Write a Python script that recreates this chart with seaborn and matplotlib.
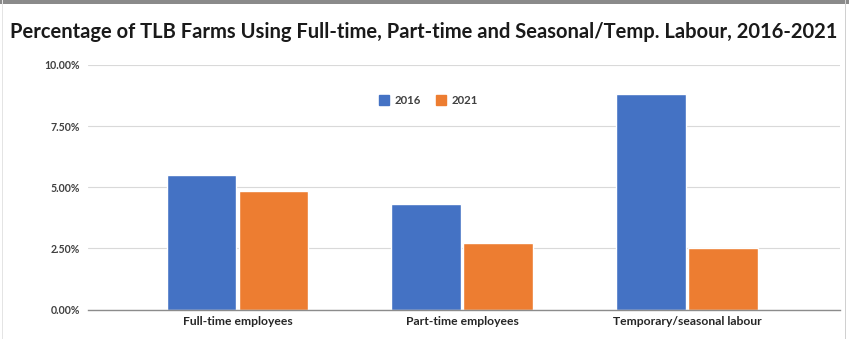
import matplotlib
matplotlib.use("Agg")
import matplotlib.pyplot as plt
from matplotlib.patches import Rectangle
from matplotlib.lines import Line2D
from matplotlib.ticker import FuncFormatter
import seaborn as sns
import pandas as pd

categories = ["Full-time employees", "Part-time employees", "Temporary/seasonal labour"]
years = ["2016", "2021"]
pct_2016 = [5.50, 4.31, 8.81]
pct_2021 = [4.85, 2.71, 2.50]
y_ticks = [0.0, 2.5, 5.0, 7.5, 10.0]
title = "Percentage of TLB Farms Using Full-time, Part-time and Seasonal/Temp. Labour, 2016-2021"

colors = {"2016": "#4472C4", "2021": "#ED7D31"}

df = pd.DataFrame({
    "category": categories * 2,
    "year": [years[0]] * 3 + [years[1]] * 3,
    "value": pct_2016 + pct_2021,
})

sns.set_theme(style="white")
plt.rcParams["font.family"] = ["Lato", "DejaVu Sans"]

W, H = 849, 339
fig = plt.figure(figsize=(W / 100, H / 100), dpi=100)
fig.patch.set_facecolor("white")

ax = fig.add_axes([88 / W, 29.5 / H, (840 - 88) / W, (309.5 - 65) / H])
sns.barplot(data=df, x="category", y="value", hue="year", order=categories,
            hue_order=years, palette=colors, width=0.64, gap=0.03,
            saturation=1, ax=ax, legend=False)

ax.set_xlim(-0.665, 2.68)
ax.set_ylim(0, 10)
ax.set_yticks(y_ticks)
ax.yaxis.set_major_formatter(FuncFormatter(lambda v, _: f"{v:.2f}%"))
ax.grid(axis="y", color="#d9d9d9", linewidth=0.8)
ax.set_axisbelow(True)
for s in ["top", "right", "left"]:
    ax.spines[s].set_visible(False)
ax.spines["bottom"].set_color("#8c8c8c")
ax.spines["bottom"].set_linewidth(1.0)
ax.set_xlabel("")
ax.set_ylabel("")
ax.tick_params(axis="y", length=0, pad=6, labelsize=7.6, labelcolor="#404040")
ax.tick_params(axis="x", length=0, pad=5, labelsize=8.7, labelcolor="#262626")
for lbl in ax.get_yticklabels() + ax.get_xticklabels():
    lbl.set_fontweight("bold")

handles = [Line2D([], [], marker="s", linestyle="none", markersize=7,
                  markerfacecolor=colors[y], markeredgecolor=colors[y]) for y in years]
leg = ax.legend(handles, years, loc="center", bbox_to_anchor=(0.452, 0.855),
                ncol=2, frameon=False, handletextpad=0.4, columnspacing=1.3,
                handlelength=1.0, prop={"weight": "bold", "size": 8.2})
for t in leg.get_texts():
    t.set_color("#404040")

fig.text(424 / W, 1 - 32 / H, title, ha="center", va="center",
         fontsize=14.5, fontweight="bold", color="#1a1a1a")

# frame: dark band along the top, light rules on the sides
fig.patches.append(Rectangle((0, 1 - 4 / H), 1, 4 / H, transform=fig.transFigure,
                             facecolor="#8a8a8a", edgecolor="none"))
fig.patches.append(Rectangle((845 / W, 0), 1.2 / W, 1, transform=fig.transFigure,
                             facecolor="#d0d0d0", edgecolor="none"))
fig.patches.append(Rectangle((2 / W, 0), 1.0 / W, 1, transform=fig.transFigure,
                             facecolor="#e4e4e4", edgecolor="none"))

fig.savefig("out.png", dpi=100)
